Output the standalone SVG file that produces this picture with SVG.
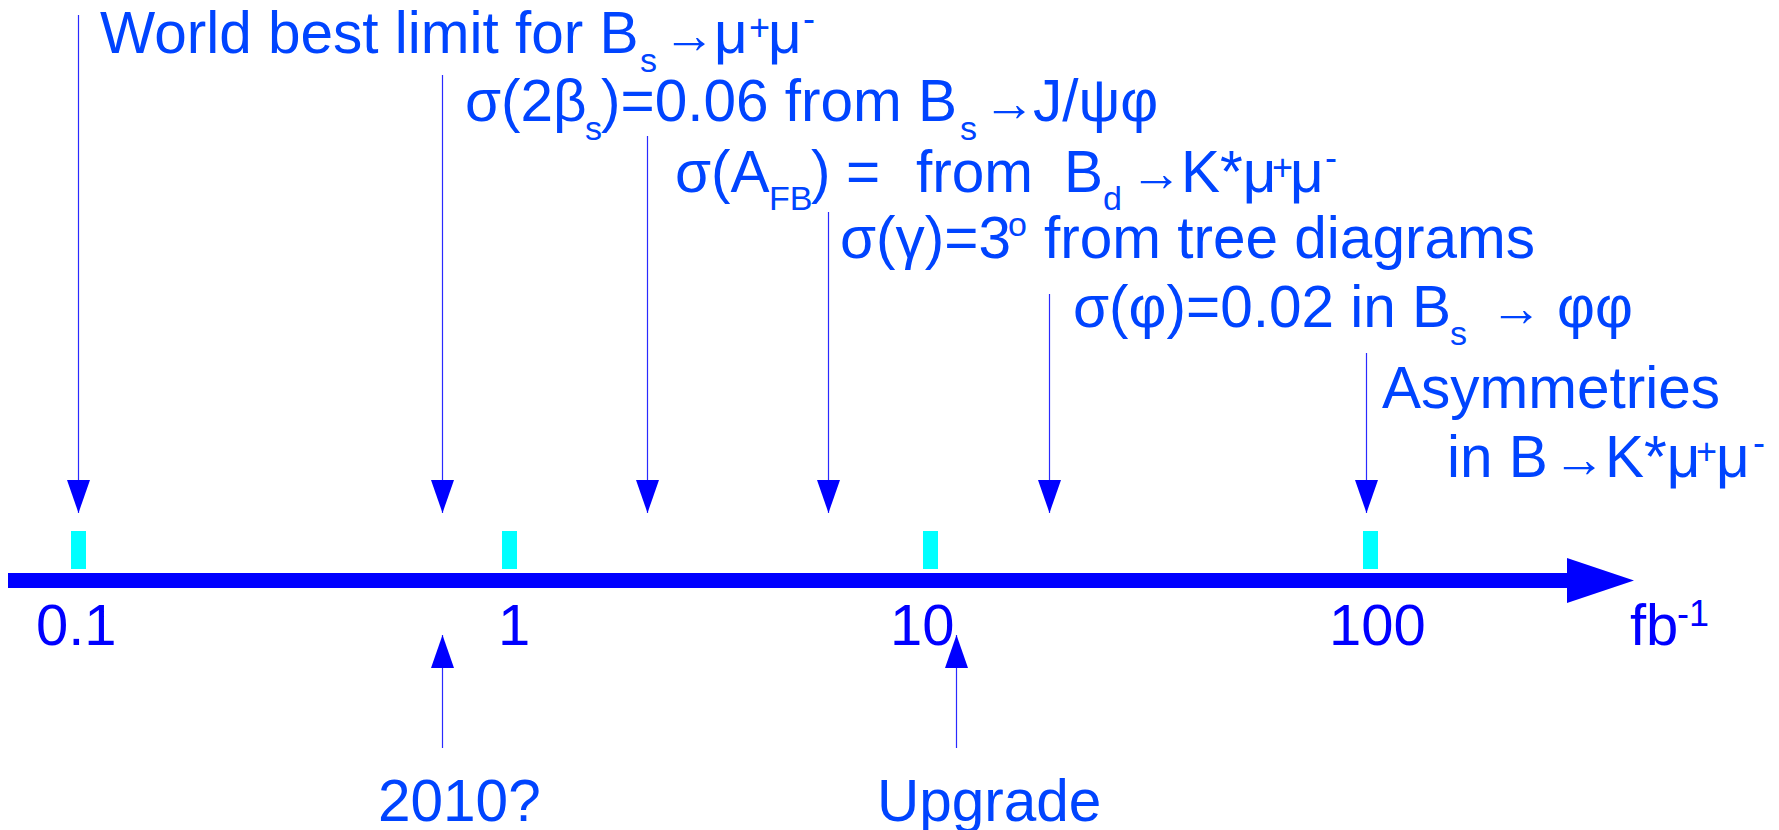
<svg xmlns="http://www.w3.org/2000/svg" width="1779" height="830" viewBox="0 0 1779 830">
<style>
text { font-family: "Liberation Sans", Arial, sans-serif; }
.t { fill: #0044ff; font-size: 58.5px; }
.ax { fill: #0000ff; font-size: 58px; }
.sub { font-size: 34px; }
.sup { font-size: 36px; }
.arr { font-size: 52px; }
.ln { stroke: #2a2aff; stroke-width: 1.2; fill: none; }
.tick { fill: #00ffff; }
</style>
<defs>
<marker id="ah" markerUnits="userSpaceOnUse" markerWidth="34" markerHeight="24" refX="33" refY="11.5" orient="auto">
<path d="M0,0 L33,11.5 L0,23 z" fill="#0000ff"/>
</marker>
</defs>

<g id="axis">
<rect x="8" y="573" width="1560" height="15" fill="#0000ff"/>
<polygon points="1567,558 1634,580.5 1567,603" fill="#0000ff"/>
<rect class="tick" x="71" y="531" width="15" height="38"/>
<rect class="tick" x="502" y="531" width="15" height="38"/>
<rect class="tick" x="923" y="531" width="15" height="38"/>
<rect class="tick" x="1363" y="531" width="15" height="38"/>
<text class="ax" x="36" y="645">0.1</text>
<text class="ax" x="498" y="645">1</text>
<text class="ax" x="890" y="645">10</text>
<text class="ax" x="1329" y="645">100</text>
<text class="ax" y="645"><tspan x="1630">fb</tspan><tspan class="sup" x="1677" y="626">-1</tspan></text>
</g>

<g id="connectors">
<line class="ln" x1="78.5" y1="15" x2="78.5" y2="513" marker-end="url(#ah)"/>
<line class="ln" x1="442.5" y1="75" x2="442.5" y2="513" marker-end="url(#ah)"/>
<line class="ln" x1="647.5" y1="136" x2="647.5" y2="513" marker-end="url(#ah)"/>
<line class="ln" x1="828.5" y1="212" x2="828.5" y2="513" marker-end="url(#ah)"/>
<line class="ln" x1="1049.5" y1="294" x2="1049.5" y2="513" marker-end="url(#ah)"/>
<line class="ln" x1="1366.5" y1="353" x2="1366.5" y2="513" marker-end="url(#ah)"/>
<line class="ln" x1="442.5" y1="748" x2="442.5" y2="635" marker-end="url(#ah)"/>
<line class="ln" x1="956.5" y1="748" x2="956.5" y2="635" marker-end="url(#ah)"/>
</g>

<g id="n1">
<text class="t" y="53"><tspan x="100">World best limit for B</tspan><tspan class="sub" x="640" y="72">s</tspan><tspan class="arr" x="663" y="53">→</tspan><tspan x="714" y="53">μ</tspan><tspan class="sup" x="749" y="40">+</tspan><tspan x="768" y="53">μ</tspan><tspan class="sup" x="803" y="31">-</tspan></text>
</g>
<g id="n2">
<text class="t" y="121"><tspan x="465">σ(2β</tspan><tspan class="sub" x="585" y="140">s</tspan><tspan x="601" y="121">)=0.06 from B</tspan><tspan class="sub" x="960" y="140">s</tspan><tspan class="arr" x="983" y="121">→</tspan><tspan x="1033" y="121">J/ψφ</tspan></text>
</g>
<g id="n3">
<text class="t" y="192"><tspan x="675">σ(A</tspan><tspan class="sub" x="769" y="210">FB</tspan><tspan x="811" y="192">)</tspan><tspan x="846" y="192">=</tspan><tspan x="916" y="192">from</tspan><tspan x="1064" y="192">B</tspan><tspan class="sub" x="1103" y="210">d</tspan><tspan class="arr" x="1130" y="191">→</tspan><tspan x="1181" y="192">K*μ</tspan><tspan class="sup" x="1272" y="180">+</tspan><tspan x="1290" y="192">μ</tspan><tspan class="sup" x="1325" y="170">-</tspan></text>
</g>
<g id="n4">
<text class="t" y="258"><tspan x="840">σ(γ)=3</tspan><tspan class="sub" x="1008" y="236">o</tspan><tspan x="1044" y="258">from tree diagrams</tspan></text>
</g>
<g id="n5">
<text class="t" y="327"><tspan x="1073">σ(φ)=0.02 in B</tspan><tspan class="sub" x="1450" y="345">s</tspan><tspan class="arr" x="1490" y="326">→</tspan><tspan x="1557" y="327">φφ</tspan></text>
</g>
<g id="n6">
<text class="t" x="1382" y="408">Asymmetries</text>
<text class="t" y="477"><tspan x="1447">in B</tspan><tspan class="arr" x="1553" y="477">→</tspan><tspan x="1605" y="477">K*μ</tspan><tspan class="sup" x="1696" y="464">+</tspan><tspan x="1716" y="477">μ</tspan><tspan class="sup" x="1753" y="455">-</tspan></text>
</g>
<g id="n7">
<text class="t" x="378" y="821">2010?</text>
</g>
<g id="n8">
<text class="t" x="877" y="821">Upgrade</text>
</g>
</svg>
